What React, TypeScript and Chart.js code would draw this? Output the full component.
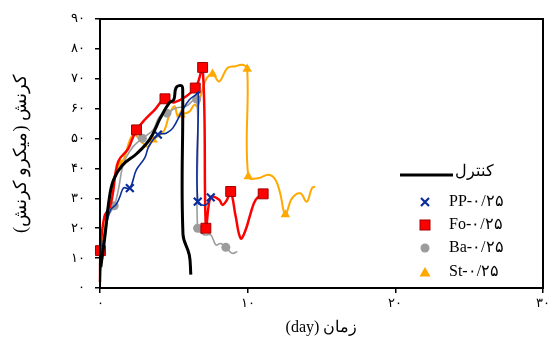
import React, { useEffect, useRef } from 'react';
import { Chart, registerables } from 'chart.js';

Chart.register(...registerables);

// ---- tick labels ----
const xTickValues = [0, 10, 20, 30];
const xTickLabels = ['۰', '۱۰', '۲۰', '۳۰'];
const yTickValues = [0, 10, 20, 30, 40, 50, 60, 70, 80, 90];
const yTickLabels = ['۰', '۱۰', '۲۰', '۳۰', '۴۰', '۵۰', '۶۰', '۷۰', '۸۰', '۹۰'];

// ---- series names ----
const seriesNames = ['کنترل', 'PP-۰/۲۵', 'Fo-۰/۲۵', 'Ba-۰/۲۵', 'St-۰/۲۵'];
const xTitle = '\u202Bزمان (day)\u202C';
const yTitle = '\u202Bکرنش (میکرو کرنش)\u202C';

// ---- control (black) ----
const controlDays = [0.05, 0.35, 0.6, 0.9, 1.5, 2.5, 3.4, 4.1, 4.7, 5.0, 5.15, 5.5, 5.6, 5.62, 6.05, 6.15];
const controlStrain = [7, 18, 29, 36, 41, 45, 50, 57, 62, 63, 67, 67.7, 66.5, 18, 11, 4.5];

// ---- PP-0/25 (blue, x) ----
const ppDays = [0, 0.3, 0.7, 1.1, 1.35, 1.6, 2.02, 2.46, 3.03, 3.3, 3.92, 4.48, 4.93, 5.6, 6.05, 6.5, 6.66, 6.62, 7.17, 7.5];
const ppStrain = [5, 18, 26, 28, 30.6, 33.5, 33.4, 39.5, 43.5, 47.3, 51.3, 51.8, 53.5, 59.6, 63, 64.7, 65.5, 28.9, 27.8, 30.3];
const ppMarkers = [6, 10, 17, 19];

// ---- Fo-0/25 (red, square) ----
const foDays = [0, 0.03, 0.3, 0.67, 0.85, 1.23, 1.9, 2.2, 2.47, 3.03, 3.7, 4.4, 5.04, 6.45, 6.95, 7.17, 7.4, 7.6, 8.07, 8.3, 8.6, 8.85, 9.19, 9.53, 9.86, 10.2, 10.54, 11.05];
const foStrain = [2, 12.5, 23.9, 27.2, 31, 42.3, 46.5, 50, 52.9, 56.3, 59.6, 63.3, 62.1, 66.9, 73.8, 20, 28.9, 30.6, 29.5, 27.8, 29.5, 32.3, 23.9, 16.6, 19.4, 25, 29.5, 31.5];
const foMarkers = [1, 8, 11, 13, 14, 15, 21, 27];

// ---- Ba-0/25 (grey, circle) ----
const baDays = [0, 0.3, 0.56, 0.96, 1.25, 1.5, 1.75, 2.24, 2.87, 3.59, 4.03, 4.53, 5.15, 5.83, 6.55, 6.61, 7.06, 7.5, 7.85, 8.18, 8.52, 8.96, 9.3];
const baStrain = [3, 15, 23.9, 27.5, 33, 40, 43.5, 47.3, 50.1, 52.9, 57.4, 58.5, 60.2, 60.8, 63.2, 20, 17.8, 17.8, 14.4, 14.9, 13.6, 11.6, 12.2];
const baMarkers = [3, 8, 11, 14, 15, 20];

// ---- St-0/25 (orange, triangle) ----
const stDays = [0, 0.1, 0.4, 0.67, 0.9, 1.35, 1.6, 2.24, 2.91, 3.25, 3.59, 4.0, 4.37, 4.7, 5.04, 5.27, 5.49, 6.05, 6.39, 6.61, 6.84, 7.17, 7.62, 8.07, 8.63, 9.19, 9.64, 9.97, 10.04, 10.76, 11.43, 11.88, 12.2, 12.55, 13.0, 13.56, 14.0, 14.35, 14.57];
const stStrain = [0, 12.8, 22, 29.5, 36.2, 41.8, 43, 51.3, 48.4, 47.3, 49.6, 51, 52.9, 58, 60.8, 57.4, 58, 59, 61.3, 60.8, 64.7, 69.7, 71.6, 69.1, 73.6, 74.2, 74.7, 73.3, 37.3, 36.8, 37.9, 36.2, 31.7, 24.6, 30, 31.7, 28.9, 33.4, 33.9];
const stMarkers = [5, 10, 16, 22, 27, 28, 33];

const COLORS = {
  control: '#000000',
  pp: '#0a2d9c',
  fo: '#ff0000',
  foEdge: '#a00000',
  ba: '#9c9c9c',
  st: '#ffa800',
};

const FONT = "'Liberation Serif', 'DejaVu Serif', serif";

function toPoints(xs: number[], ys: number[]) {
  return xs.map((x, i) => ({ x, y: ys[i] }));
}

function markerRadius(indices: number[], r: number) {
  return (ctx: any) => (indices.includes(ctx.dataIndex) ? r : 0);
}

function drawMarker(ctx: CanvasRenderingContext2D, kind: string, x: number, y: number) {
  ctx.save();
  if (kind === 'x') {
    ctx.strokeStyle = COLORS.pp;
    ctx.lineWidth = 2.2;
    const s = 4;
    ctx.beginPath();
    ctx.moveTo(x - s, y - s);
    ctx.lineTo(x + s, y + s);
    ctx.moveTo(x + s, y - s);
    ctx.lineTo(x - s, y + s);
    ctx.stroke();
  } else if (kind === 'rect') {
    ctx.fillStyle = COLORS.fo;
    ctx.strokeStyle = COLORS.foEdge;
    ctx.lineWidth = 1;
    ctx.fillRect(x - 5, y - 5, 10, 10);
    ctx.strokeRect(x - 5, y - 5, 10, 10);
  } else if (kind === 'circle') {
    ctx.fillStyle = COLORS.ba;
    ctx.beginPath();
    ctx.arc(x, y, 4.5, 0, Math.PI * 2);
    ctx.fill();
  } else if (kind === 'tri') {
    ctx.fillStyle = COLORS.st;
    ctx.beginPath();
    ctx.moveTo(x, y - 5);
    ctx.lineTo(x + 5.5, y + 4.5);
    ctx.lineTo(x - 5.5, y + 4.5);
    ctx.closePath();
    ctx.fill();
  }
  ctx.restore();
}

const framePlugin = {
  id: 'frame',
  afterDraw(chart: any) {
    const { ctx, chartArea } = chart;
    ctx.save();
    ctx.strokeStyle = '#000';
    ctx.lineWidth = 2;
    ctx.strokeRect(chartArea.left, chartArea.top, chartArea.right - chartArea.left, chartArea.bottom - chartArea.top);
    ctx.restore();
  },
};

const legendPlugin = {
  id: 'customLegend',
  afterDraw(chart: any) {
    const { ctx, chartArea } = chart;
    const baseX = chartArea.right - 143;
    const baseY = chartArea.top + 156;
    ctx.save();
    ctx.font = `16px ${FONT}`;
    ctx.fillStyle = '#000';
    ctx.textBaseline = 'middle';
    ctx.textAlign = 'left';
    ctx.strokeStyle = COLORS.control;
    ctx.lineWidth = 3;
    ctx.beginPath();
    ctx.moveTo(baseX, baseY);
    ctx.lineTo(baseX + 53, baseY);
    ctx.stroke();
    ctx.fillText(seriesNames[0], baseX + 55, baseY - 3);
    const kinds = ['x', 'rect', 'circle', 'tri'];
    const offsets = [27, 50, 73, 97];
    kinds.forEach((k, i) => {
      const y = baseY + offsets[i];
      drawMarker(ctx, k, baseX + 25, y);
      ctx.fillText(seriesNames[i + 1], baseX + 49, y);
    });
    ctx.restore();
  },
};

export default function App() {
  const ref = useRef<HTMLCanvasElement | null>(null);

  useEffect(() => {
    if (!ref.current) return;
    const common = {
      showLine: true,
      tension: 0.4,
      clip: false as const,
      fill: false,
    };
    const chart = new Chart(ref.current, {
      type: 'scatter',
      data: {
        datasets: [
          {
            ...common,
            label: seriesNames[0],
            data: toPoints(controlDays, controlStrain),
            borderColor: COLORS.control,
            borderWidth: 3,
            pointRadius: 0,
          },
          {
            ...common,
            label: seriesNames[1],
            data: toPoints(ppDays, ppStrain),
            borderColor: COLORS.pp,
            borderWidth: 1.6,
            pointStyle: 'crossRot',
            pointRadius: markerRadius(ppMarkers, 5.5),
            pointBorderColor: COLORS.pp,
            pointBorderWidth: 2.2,
            pointBackgroundColor: COLORS.pp,
          },
          {
            ...common,
            label: seriesNames[2],
            data: toPoints(foDays, foStrain),
            borderColor: COLORS.fo,
            borderWidth: 2.5,
            pointStyle: 'rect',
            pointRadius: markerRadius(foMarkers, 7),
            pointBackgroundColor: COLORS.fo,
            pointBorderColor: COLORS.foEdge,
            pointBorderWidth: 1,
          },
          {
            ...common,
            label: seriesNames[3],
            data: toPoints(baDays, baStrain),
            borderColor: COLORS.ba,
            borderWidth: 1.6,
            pointStyle: 'circle',
            pointRadius: markerRadius(baMarkers, 4.5),
            pointBackgroundColor: COLORS.ba,
            pointBorderColor: COLORS.ba,
            pointBorderWidth: 0,
          },
          {
            ...common,
            label: seriesNames[4],
            data: toPoints(stDays, stStrain),
            borderColor: COLORS.st,
            borderWidth: 2,
            pointStyle: 'triangle',
            pointRadius: markerRadius(stMarkers, 5.5),
            pointBackgroundColor: COLORS.st,
            pointBorderColor: COLORS.st,
            pointBorderWidth: 0,
          },
        ],
      },
      options: {
        responsive: false,
        animation: false,
        events: [],
        layout: { padding: { top: 19, right: 5, bottom: 0, left: 0 } },
        plugins: {
          legend: { display: false },
          tooltip: { enabled: false },
        },
        scales: {
          x: {
            type: 'linear',
            min: 0,
            max: 30,
            afterBuildTicks: (s: any) => {
              s.ticks = xTickValues.map((v) => ({ value: v }));
            },
            afterFit: (s: any) => {
              s.height = 53;
              s.paddingRight = 0;
              s.paddingLeft = 0;
            },
            ticks: {
              autoSkip: false,
              maxRotation: 0,
              padding: 3,
              color: '#000',
              font: { family: FONT, size: 13 },
              callback: (v: any) => xTickLabels[xTickValues.indexOf(Number(v))] ?? '',
            },
            grid: { display: true, drawOnChartArea: false, drawTicks: true, tickLength: 5, color: '#000', lineWidth: 1.5 },
            border: { display: true, color: '#000', width: 2 },
            title: {
              display: true,
              text: xTitle,
              color: '#000',
              font: { family: FONT, size: 16 },
              padding: { top: 0, bottom: 4 },
            },
          },
          y: {
            type: 'linear',
            min: 0,
            max: 90,
            afterBuildTicks: (s: any) => {
              s.ticks = yTickValues.map((v) => ({ value: v }));
            },
            afterFit: (s: any) => {
              s.width = 100;
              s.paddingTop = 0;
              s.paddingBottom = 0;
            },
            ticks: {
              autoSkip: false,
              padding: 10,
              color: '#000',
              font: { family: FONT, size: 13 },
              callback: (v: any) => yTickLabels[yTickValues.indexOf(Number(v))] ?? '',
            },
            grid: { display: true, drawOnChartArea: false, drawTicks: true, tickLength: 5, color: '#000', lineWidth: 1.5 },
            border: { display: true, color: '#000', width: 2 },
            title: {
              display: true,
              text: yTitle,
              color: '#000',
              font: { family: FONT, size: 18 },
              padding: { top: 10, bottom: 0 },
            },
          },
        },
      },
      plugins: [framePlugin, legendPlugin],
    });
    return () => chart.destroy();
  }, []);

  return (
    <div style={{ position: 'absolute', left: 0, top: 0, width: 551, height: 341, background: '#fff' }}>
      <canvas ref={ref} width={551} height={341} style={{ display: 'block' }} />
    </div>
  );
}
